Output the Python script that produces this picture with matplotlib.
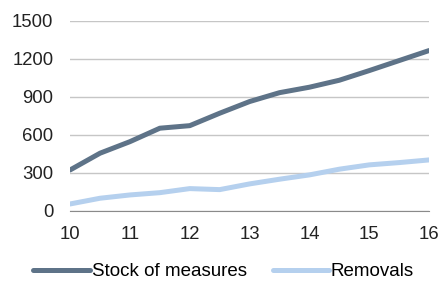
import matplotlib.pyplot as plt

plt.rcParams['font.family'] = ['Liberation Sans', 'DejaVu Sans']

# data
years = [10, 10.5, 11, 11.5, 12, 12.5, 13, 13.5, 14, 14.5, 15, 15.5, 16]
stock = [323, 455, 546, 652, 672, 770, 862, 932, 975, 1030, 1106, 1185, 1264]
removals = [55, 100, 126, 144, 176, 168, 213, 250, 284, 329, 363, 381, 402]
yticks = [0, 300, 600, 900, 1200, 1500]
xticks = [10, 11, 12, 13, 14, 15, 16]

fig = plt.figure(figsize=(4.41, 2.82), dpi=100)
ax = fig.add_axes([0.159, 0.252, 0.814, 0.675])

ax.plot(years, stock, color='#5e7388', linewidth=3.6, label='Stock of measures',
        solid_capstyle='round')
ax.plot(years, removals, color='#b5d0ee', linewidth=3.6, label='Removals',
        solid_capstyle='round')

ax.set_xlim(10, 16)
ax.set_ylim(0, 1500)
ax.set_xticks(xticks)
ax.set_yticks(yticks)
ax.yaxis.grid(True, color='#c6c6c6', linewidth=1)
ax.set_axisbelow(True)
for s in ['top', 'right', 'left']:
    ax.spines[s].set_visible(False)
ax.spines['bottom'].set_color('#8a8a8a')
ax.tick_params(axis='both', length=0, labelsize=13.3, colors='#222222')
ax.tick_params(axis='y', pad=12)
ax.tick_params(axis='x', pad=11)

ax.legend(loc='upper center', bbox_to_anchor=(0.428, -0.215), ncol=2, frameon=False,
          fontsize=13.5, handlelength=3.0, handletextpad=0.1, columnspacing=1.4,
          borderaxespad=0.2)

fig.savefig('out.png', dpi=100)
